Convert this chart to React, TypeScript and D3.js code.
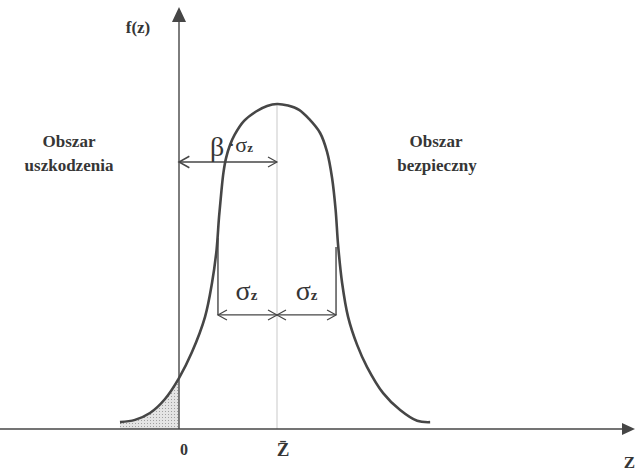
import React from "react";
import * as d3 from "d3";

// curve: z in sigma units (0 = origin), f normalised to peak = 1
const curveZ = [-1.0, -0.746, -0.492, -0.237, 0, 0.22, 0.441, 0.559, 0.636, 0.678, 0.72, 0.754, 0.797, 0.864, 0.941, 1.102, 1.305, 1.492, 1.661, 1.847, 2.034, 2.203, 2.39, 2.508, 2.593, 2.653, 2.695, 2.763, 2.864, 3.017, 3.186, 3.458, 3.746, 4.034, 4.254];
const curveF = [0.021, 0.028, 0.049, 0.092, 0.156, 0.236, 0.344, 0.448, 0.549, 0.65, 0.733, 0.788, 0.831, 0.871, 0.902, 0.945, 0.974, 0.991, 0.997, 0.992, 0.979, 0.951, 0.908, 0.85, 0.77, 0.672, 0.564, 0.448, 0.344, 0.258, 0.19, 0.11, 0.058, 0.025, 0.021];

const zBar = 1.66;
const sigma = 1;
const betaArrowF = 0.819;
const sigmaArrowF = 0.35;
const sigmaLineTopF = [0.586, 0.558];
const tickLabels = ["0", "Z\u0304"];
const axisName = "Z";
const yName = "f(z)";
const leftRegion = ["Obszar", "uszkodzenia"];
const rightRegion = ["Obszar", "bezpieczny"];

const W = 636;
const H = 475;

export default function App() {
  const x = d3.scaleLinear().domain([0, zBar]).range([179, 277]);
  const y = d3.scaleLinear().domain([0, 1]).range([429, 103]);

  const pts: [number, number][] = curveZ.map((z, i) => [z, curveF[i]]);
  const line = d3
    .line<[number, number]>()
    .x((d) => x(d[0]))
    .y((d) => y(d[1]))
    .curve(d3.curveCatmullRom.alpha(0.5));
  const area = d3
    .area<[number, number]>()
    .x((d) => x(d[0]))
    .y0(y(0))
    .y1((d) => y(d[1]))
    .curve(d3.curveCatmullRom.alpha(0.5));
  const tail = pts.filter((d) => d[0] <= 0);

  const x0 = x(0);
  const xm = x(zBar);
  const xl = x(zBar - sigma);
  const xr = x(zBar + sigma);
  const yb = y(betaArrowF);
  const ys = y(sigmaArrowF);
  const ink = "#464646";
  const font = "'Liberation Serif', 'DejaVu Serif', serif";

  const chev = (px: number, py: number, dir: number, s = 1) =>
    `M${px - dir * 9 * s},${py - 5 * s} L${px},${py} L${px - dir * 9 * s},${py + 5 * s}`;

  return (
    <svg width={W} height={H} style={{ position: "absolute", left: 0, top: 0, background: "#fff" }}>
      <defs>
        <pattern id="dots" width="3" height="3" patternUnits="userSpaceOnUse">
          <rect width="3" height="3" fill="#e4e4e4" />
          <rect width="1" height="1" fill="#a0a0a0" />
        </pattern>
      </defs>

      {/* shaded failure tail */}
      <path d={area(tail) || ""} fill="url(#dots)" stroke="none" />

      {/* mean line */}
      <line x1={xm} x2={xm} y1={y(1)} y2={y(0)} stroke="#d2d2d2" strokeWidth={1.2} />

      {/* axes */}
      <line x1={0} x2={622} y1={y(0)} y2={y(0)} stroke={ink} strokeWidth={1.6} />
      <path d={`M622,${y(0) - 6} L635,${y(0)} L622,${y(0) + 6} Z`} fill={ink} />
      <line x1={x0} x2={x0} y1={y(0)} y2={20} stroke={ink} strokeWidth={1.4} />
      <path d={`M${x0 - 7},22 L${x0},7 L${x0 + 7},22 Z`} fill={ink} />

      {/* density curve */}
      <path d={line(pts) || ""} fill="none" stroke={ink} strokeWidth={2.6} strokeLinejoin="round" />

      {/* sigma markers */}
      <line x1={xl} x2={xl} y1={y(sigmaLineTopF[0])} y2={ys} stroke={ink} strokeWidth={1.4} />
      <line x1={xr} x2={xr} y1={y(sigmaLineTopF[1])} y2={ys} stroke={ink} strokeWidth={1.4} />
      <line x1={xl} x2={xr} y1={ys} y2={ys} stroke={ink} strokeWidth={1.4} />
      <path d={chev(xl, ys, -1)} fill="none" stroke={ink} strokeWidth={1.2} />
      <path d={chev(xm, ys, 1)} fill="none" stroke={ink} strokeWidth={1.2} />
      <path d={chev(xm, ys, -1)} fill="none" stroke={ink} strokeWidth={1.2} />
      <path d={chev(xr, ys, 1)} fill="none" stroke={ink} strokeWidth={1.2} />

      {/* beta * sigma arrow */}
      <line x1={x0} x2={xm} y1={yb} y2={yb} stroke={ink} strokeWidth={1.5} />
      <path d={chev(x0, yb, -1, 1.15)} fill="none" stroke={ink} strokeWidth={1.5} />
      <path d={chev(xm, yb, 1)} fill="none" stroke={ink} strokeWidth={1.2} />

      <g fontFamily={font} fill="#363636">
        <text x={210} y={156} fontSize={28}>β</text>
        <text x={228} y={152} fontSize={22}>·σ<tspan fontSize={13} fontWeight="bold">z</tspan></text>
        <text x={(xl + xm) / 2 - 1} y={300} fontSize={28} textAnchor="middle">σ<tspan fontSize={15} fontWeight="bold">z</tspan></text>
        <text x={(xm + xr) / 2} y={300} fontSize={28} textAnchor="middle">σ<tspan fontSize={15} fontWeight="bold">z</tspan></text>

        <g fontWeight="bold" fontSize={17}>
          <text x={138} y={33} textAnchor="middle">{yName}</text>
          <text x={69} y={147} textAnchor="middle">{leftRegion[0]}</text>
          <text x={69} y={171} textAnchor="middle">{leftRegion[1]}</text>
          <text x={436} y={147} textAnchor="middle">{rightRegion[0]}</text>
          <text x={437} y={171} textAnchor="middle">{rightRegion[1]}</text>
          <text x={x0 + 5} y={455} textAnchor="middle" fontSize={16}>{tickLabels[0]}</text>
          <text x={xm + 6} y={456} textAnchor="middle" fontSize={19}>{tickLabels[1]}</text>
          <text x={635} y={468} textAnchor="end" fontSize={17}>{axisName}</text>
        </g>
      </g>
    </svg>
  );
}
